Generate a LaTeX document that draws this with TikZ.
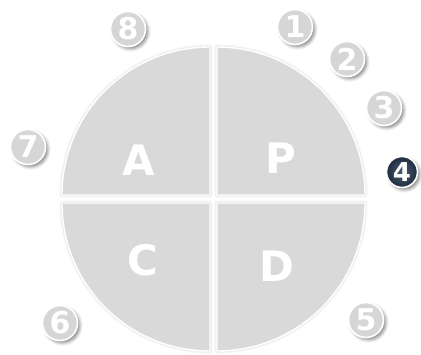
\documentclass[tikz,border=0pt]{standalone}
\usepackage{fontspec}
\setmainfont{DejaVu Sans}
\usetikzlibrary{shadows.blur}
\definecolor{quadgray}{HTML}{D9D9D9}
\definecolor{numgray}{HTML}{D6D6D6}
\definecolor{navy}{HTML}{2F4259}
\definecolor{navydark}{HTML}{1E2C3E}
\tikzset{
  quad/.style={fill=quadgray, draw=white, line width=1.4pt,
    blur shadow={shadow xshift=0pt, shadow yshift=0pt, shadow blur radius=3pt, shadow opacity=25}},
  letter/.style={text=white, font=\fontsize{42}{42}\selectfont\bfseries},
  num/.style={circle, minimum size=35pt, inner sep=0pt, fill=numgray, draw=white, line width=1.6pt,
    text=white, font=\fontsize{30}{30}\selectfont\bfseries,
    blur shadow={shadow xshift=2.5pt, shadow yshift=-2.5pt, shadow blur radius=3pt, shadow opacity=45}},
  numhi/.style={num, minimum size=31pt, fill=navy, inner color=navy!85!white, outer color=navydark,
    font=\fontsize{26}{26}\selectfont\bfseries}
}
\begin{document}
\begin{tikzpicture}[x=1pt,y=1pt]
\useasboundingbox (0,0) rectangle (421,354);
% quadrants
\path[quad] (217,159) -- (365,159) arc[start angle=0, end angle=90, radius=148pt] -- cycle;
\path[quad] (210,159) -- (210,307) arc[start angle=90, end angle=180, radius=148pt] -- cycle;
\path[quad] (210,151) -- (62,151) arc[start angle=180, end angle=270, radius=148pt] -- cycle;
\path[quad] (217,151) -- (217,3) arc[start angle=270, end angle=360, radius=148pt] -- cycle;
% letters
\node[letter] (A) at (139,194) {A};
\node[letter] (P) at (281,196) {P};
\node[letter] (C) at (143,94) {C};
\node[letter] (D) at (277,88) {D};
% numbers
\node[num] (n1) at (295,327) {1};
\node[num] (n2) at (347,295) {2};
\node[num] (n3) at (384,246) {3};
\node[numhi] (n4) at (402,182) {4};
\node[num] (n5) at (366,34) {5};
\node[num] (n6) at (60,31) {6};
\node[num] (n7) at (28,207) {7};
\node[num] (n8) at (128,325) {8};
\end{tikzpicture}
\end{document}
